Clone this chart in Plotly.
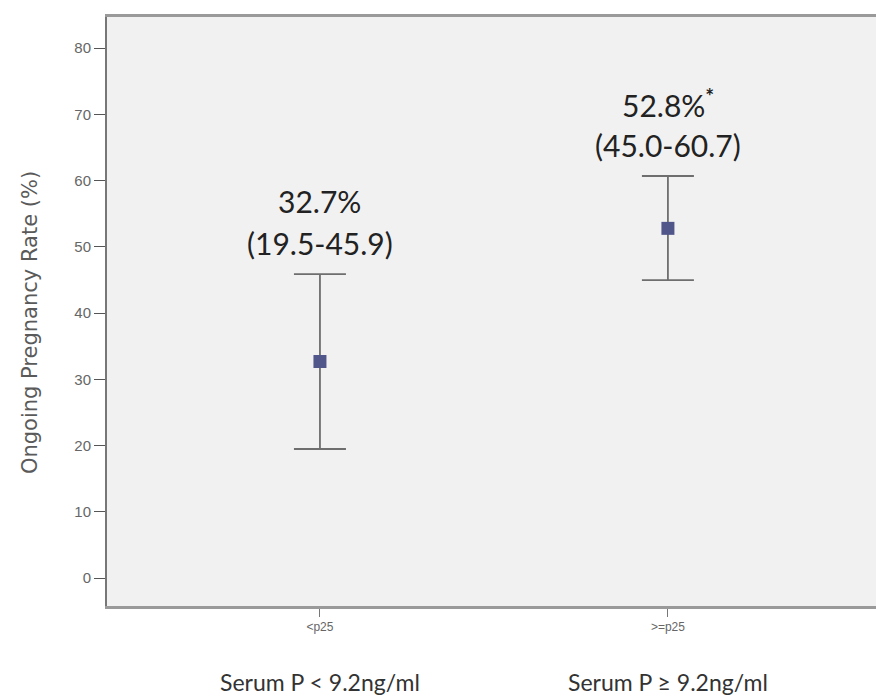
import plotly.graph_objects as go

categories = ["<p25", ">=p25"]
group_labels = ["Serum P < 9.2ng/ml", "Serum P ≥ 9.2ng/ml"]
rates = [32.7, 52.8]
ci_low = [19.5, 45.0]
ci_high = [45.9, 60.7]
rate_text = ["32.7%", "52.8%<sup><b>*</b></sup>"]
ci_text = ["(19.5-45.9)", "(45.0-60.7)"]
y_ticks = [0, 10, 20, 30, 40, 50, 60, 70, 80]

xpos = list(range(len(categories)))
err_plus = [h - r for h, r in zip(ci_high, rates)]
err_minus = [r - l for r, l in zip(rates, ci_low)]

W, H = 876, 699
L, R, T, B = 107, 0, 17, 93
plot_h = H - T - B
plot_w = W - L - R

fig = go.Figure()
fig.add_trace(go.Scatter(
    x=xpos, y=rates, mode="markers",
    marker=dict(symbol="square", size=13, color="#50568a"),
    error_y=dict(type="data", symmetric=False, array=err_plus, arrayminus=err_minus,
                 color="#6e6e6e", thickness=1.8, width=26),
    showlegend=False, hoverinfo="skip",
))

lab_font = dict(family="Lato, Open Sans, sans-serif", size=30, color="#222")
for i, x in enumerate(xpos):
    fig.add_annotation(x=x, y=ci_high[i], xref="x", yref="y", text=ci_text[i],
                       showarrow=False, yanchor="middle", yshift=31, font=lab_font)
    fig.add_annotation(x=x, y=ci_high[i], xref="x", yref="y", text=rate_text[i],
                       showarrow=False, yanchor="middle", yshift=73, font=lab_font)

for x, txt in zip(xpos, group_labels):
    fig.add_annotation(x=x, y=-(682 - (H - B)) / plot_h, xref="x", yref="paper", text=txt,
                       showarrow=False, yanchor="middle",
                       font=dict(family="Lato, Open Sans, sans-serif", size=23, color="#333"))

# y axis title
fig.add_annotation(x=(30 - L) / plot_w, y=38.5, xref="paper", yref="y",
                   text="Ongoing Pregnancy Rate (%)", textangle=-90, showarrow=False,
                   xanchor="center", yanchor="middle",
                   font=dict(family="DejaVu Sans, sans-serif", size=21, color="#5a5a5a"))

fig.update_layout(
    width=W, height=H,
    margin=dict(l=L, r=R, t=T, b=B),
    paper_bgcolor="white", plot_bgcolor="#f1f1f1",
    xaxis=dict(tickvals=xpos, ticktext=categories, range=[-0.612, 1.598],
               showgrid=False, zeroline=False, showline=True, mirror=True,
               linecolor="#9a9a9a", linewidth=3, ticks="outside", ticklen=8,
               tickcolor="#777", tickfont=dict(family="Liberation Sans, sans-serif", size=12, color="#666")),
    yaxis=dict(tickvals=y_ticks, range=[-4.2, 84.7], showgrid=False, zeroline=False,
               showline=True, linecolor="#777", linewidth=2, ticks="outside", ticklen=11,
               tickcolor="#555",
               tickfont=dict(family="Liberation Sans, sans-serif", size=15, color="#666")),
)

fig.write_html("out.html", config={"displayModeBar": False},
               post_script="document.body.style.margin='0';document.body.style.overflow='hidden';")
